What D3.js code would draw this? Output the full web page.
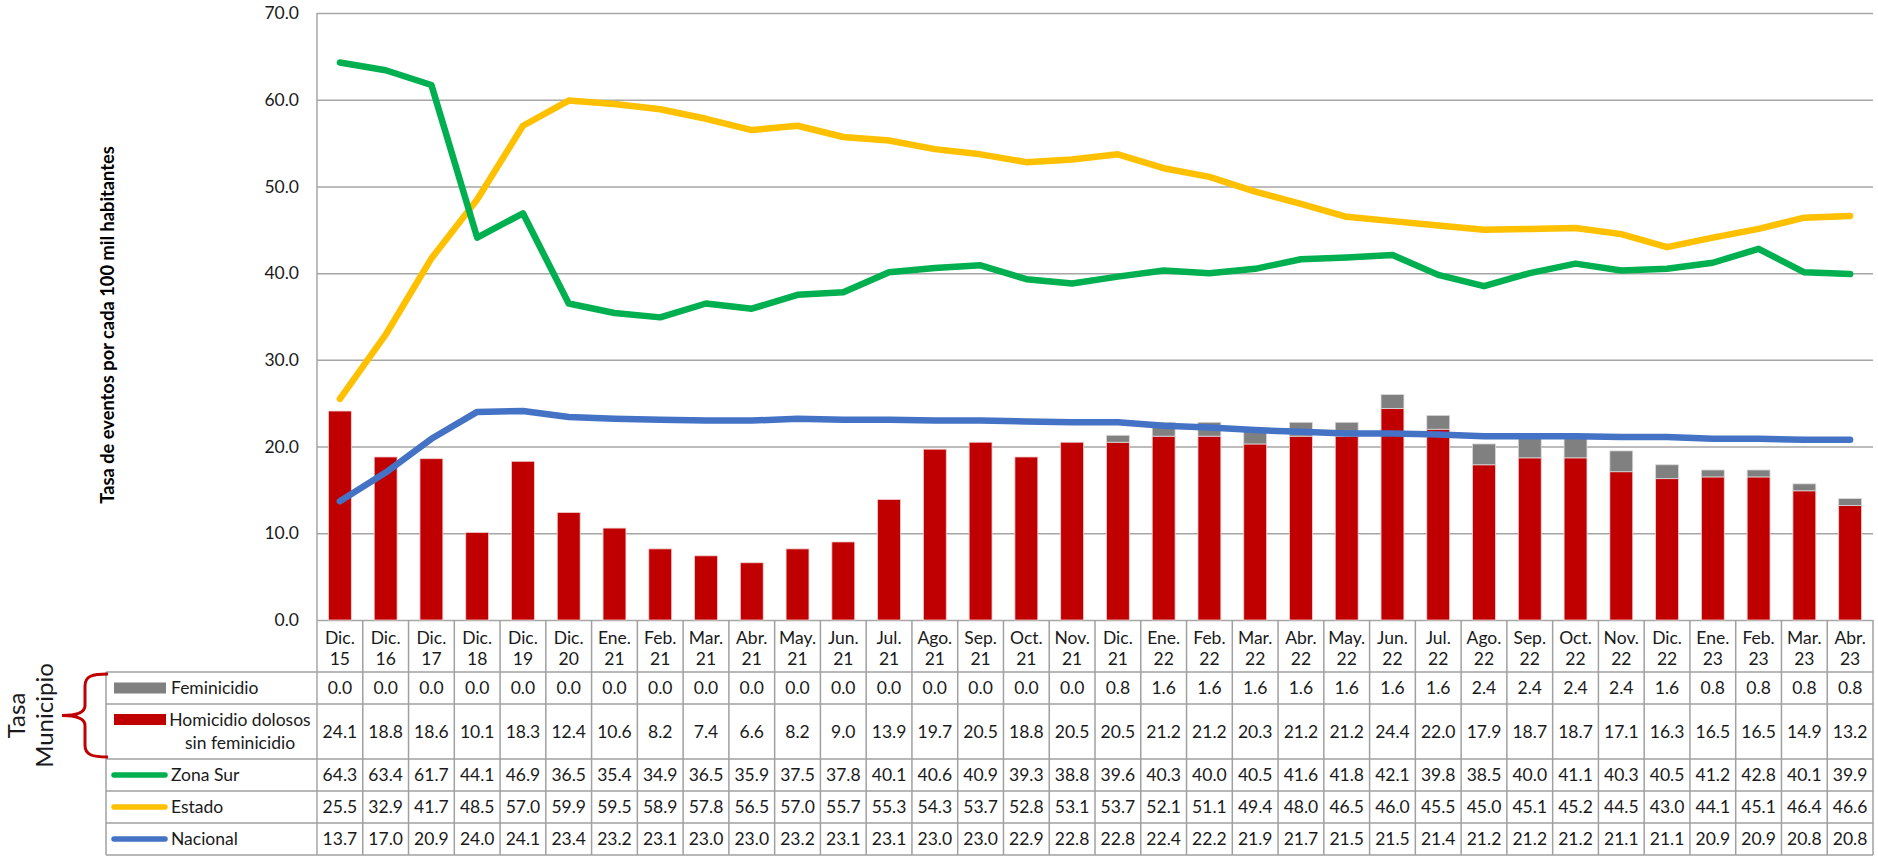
<!DOCTYPE html>
<html>
<head>
<meta charset="utf-8">
<script src="https://cdn.jsdelivr.net/npm/d3@7"></script>
<style>
  body { margin: 0; background: #fff; }
  svg { display: block; font-family: Lato, "Open Sans", sans-serif; }
</style>
</head>
<body>
<div id="chart"></div>
<script>
// categories (month + year, two lines in the table header)
const categories = ["Dic. 15", "Dic. 16", "Dic. 17", "Dic. 18", "Dic. 19", "Dic. 20", "Ene. 21", "Feb. 21",
  "Mar. 21", "Abr. 21", "May. 21", "Jun. 21", "Jul. 21", "Ago. 21", "Sep. 21", "Oct. 21", "Nov. 21",
  "Dic. 21", "Ene. 22", "Feb. 22", "Mar. 22", "Abr. 22", "May. 22", "Jun. 22", "Jul. 22", "Ago. 22",
  "Sep. 22", "Oct. 22", "Nov. 22", "Dic. 22", "Ene. 23", "Feb. 23", "Mar. 23", "Abr. 23"];

const feminicidio = [0.0, 0.0, 0.0, 0.0, 0.0, 0.0, 0.0, 0.0, 0.0, 0.0, 0.0, 0.0, 0.0, 0.0, 0.0, 0.0, 0.0,
  0.8, 1.6, 1.6, 1.6, 1.6, 1.6, 1.6, 1.6, 2.4, 2.4, 2.4, 2.4, 1.6, 0.8, 0.8, 0.8, 0.8];
const homicidio = [24.1, 18.8, 18.6, 10.1, 18.3, 12.4, 10.6, 8.2, 7.4, 6.6, 8.2, 9.0, 13.9, 19.7, 20.5, 18.8, 20.5,
  20.5, 21.2, 21.2, 20.3, 21.2, 21.2, 24.4, 22.0, 17.9, 18.7, 18.7, 17.1, 16.3, 16.5, 16.5, 14.9, 13.2];
const zonaSur = [64.3, 63.4, 61.7, 44.1, 46.9, 36.5, 35.4, 34.9, 36.5, 35.9, 37.5, 37.8, 40.1, 40.6, 40.9, 39.3, 38.8,
  39.6, 40.3, 40.0, 40.5, 41.6, 41.8, 42.1, 39.8, 38.5, 40.0, 41.1, 40.3, 40.5, 41.2, 42.8, 40.1, 39.9];
const estado = [25.5, 32.9, 41.7, 48.5, 57.0, 59.9, 59.5, 58.9, 57.8, 56.5, 57.0, 55.7, 55.3, 54.3, 53.7, 52.8, 53.1,
  53.7, 52.1, 51.1, 49.4, 48.0, 46.5, 46.0, 45.5, 45.0, 45.1, 45.2, 44.5, 43.0, 44.1, 45.1, 46.4, 46.6];
const nacional = [13.7, 17.0, 20.9, 24.0, 24.1, 23.4, 23.2, 23.1, 23.0, 23.0, 23.2, 23.1, 23.1, 23.0, 23.0, 22.9, 22.8,
  22.8, 22.4, 22.2, 21.9, 21.7, 21.5, 21.5, 21.4, 21.2, 21.2, 21.2, 21.1, 21.1, 20.9, 20.9, 20.8, 20.8];

const yTicks = [0, 10, 20, 30, 40, 50, 60, 70];
const yTitle = "Tasa de eventos por cada 100 mil habitantes";

// layout
const W = 1878, H = 856;
const plotLeft = 317, plotRight = 1873, plotTop = 13, plotBottom = 620;
const tableLeft = 106;
const rowEdges = [672, 704, 759, 791, 823, 855];
const gridColor = "#a6a6a6", tableColor = "#a0a0a0", textColor = "#1a1a1a";
const fs = 17.5;

const svg = d3.select("#chart").append("svg")
  .attr("width", W)
  .attr("height", H);

const x = d3.scaleBand().domain(categories).range([plotLeft, plotRight])
  .paddingInner(0.5).paddingOuter(0.25);
const y = d3.scaleLinear().domain([0, 70]).range([plotBottom, plotTop]);
const cx = c => x(c) + x.bandwidth() / 2;

// gridlines + y labels
svg.append("g")
  .attr("transform", `translate(${plotLeft},0)`)
  .call(d3.axisLeft(y).tickValues(yTicks).tickSize(-(plotRight - plotLeft))
    .tickPadding(18).tickFormat(d3.format(".1f")))
  .call(g => g.select(".domain").remove())
  .call(g => g.selectAll("line").attr("stroke", gridColor).attr("stroke-width", 1.5))
  .call(g => g.selectAll("text").attr("font-size", fs).attr("fill", textColor)
    .attr("font-family", "Lato, sans-serif"));

// y axis title
svg.append("text")
  .attr("transform", "translate(107,325) rotate(-90)")
  .attr("text-anchor", "middle")
  .attr("dominant-baseline", "central")
  .attr("font-size", 18.3)
  .attr("font-weight", "bold")
  .attr("fill", "#000")
  .text(yTitle);

// stacked bars
const bars = svg.append("g");
bars.selectAll("rect.hom")
  .data(categories)
  .join("rect")
  .attr("class", "hom")
  .attr("x", c => x(c))
  .attr("width", x.bandwidth())
  .attr("y", (c, i) => y(homicidio[i]))
  .attr("height", (c, i) => y(0) - y(homicidio[i]))
  .attr("fill", "#c00000")
  .attr("stroke", "#f0d0d0")
  .attr("stroke-width", 0.8);
bars.selectAll("rect.fem")
  .data(categories.filter((c, i) => feminicidio[i] > 0))
  .join("rect")
  .attr("class", "fem")
  .attr("x", c => x(c))
  .attr("width", x.bandwidth())
  .attr("y", c => { const i = categories.indexOf(c); return y(homicidio[i] + feminicidio[i]); })
  .attr("height", c => { const i = categories.indexOf(c); return y(homicidio[i]) - y(homicidio[i] + feminicidio[i]); })
  .attr("fill", "#808080")
  .attr("stroke", "#d9d9d9")
  .attr("stroke-width", 0.8);

// lines
const line = d3.line()
  .x((d, i) => cx(categories[i]))
  .y(d => y(d));

const series = [
  { name: "Zona Sur", values: zonaSur, color: "#00b050" },
  { name: "Estado", values: estado, color: "#ffc000" },
  { name: "Nacional", values: nacional, color: "#4472c4" }
];
const lineOrder = [series[2], series[1], series[0]];
lineOrder.forEach(s => {
  svg.append("path")
    .datum(s.values)
    .attr("fill", "none")
    .attr("stroke", s.color)
    .attr("stroke-width", 6.5)
    .attr("stroke-linecap", "round")
    .attr("stroke-linejoin", "round")
    .attr("d", line);
});

// ---------- data table ----------
const tbl = svg.append("g");
const step = x.step();
const colEdges = categories.map(c => cx(c) - step / 2).concat([plotRight]);

// vertical lines
colEdges.forEach((xx, i) => {
  tbl.append("line")
    .attr("x1", xx).attr("x2", xx)
    .attr("y1", i === 0 ? plotTop : plotBottom).attr("y2", rowEdges[rowEdges.length - 1])
    .attr("stroke", i === 0 ? gridColor : tableColor).attr("stroke-width", 1.5);
});
tbl.append("line")
  .attr("x1", tableLeft).attr("x2", tableLeft)
  .attr("y1", rowEdges[0]).attr("y2", rowEdges[rowEdges.length - 1])
  .attr("stroke", tableColor).attr("stroke-width", 1.5);
// horizontal lines
rowEdges.forEach(yy => {
  tbl.append("line")
    .attr("x1", tableLeft).attr("x2", plotRight)
    .attr("y1", yy).attr("y2", yy)
    .attr("stroke", tableColor).attr("stroke-width", 1.5);
});

// category header (two lines)
categories.forEach(c => {
  const parts = c.split(" ");
  const t = tbl.append("text")
    .attr("text-anchor", "middle")
    .attr("font-size", fs)
    .attr("fill", textColor);
  t.append("tspan").attr("x", cx(c)).attr("y", 644).text(parts[0]);
  t.append("tspan").attr("x", cx(c)).attr("y", 665).text(parts[1]);
});

// table rows
const rows = [
  { label: ["Feminicidio"], values: feminicidio, color: "#808080", kind: "bar" },
  { label: ["Homicidio dolosos", "sin feminicidio"], values: homicidio, color: "#c00000", kind: "bar" },
  { label: ["Zona Sur"], values: zonaSur, color: "#00b050", kind: "line" },
  { label: ["Estado"], values: estado, color: "#ffc000", kind: "line" },
  { label: ["Nacional"], values: nacional, color: "#4472c4", kind: "line" }
];

rows.forEach((r, ri) => {
  const top = rowEdges[ri], bottom = rowEdges[ri + 1];
  const mid = (top + bottom) / 2;
  r.values.forEach((v, i) => {
    tbl.append("text")
      .attr("x", cx(categories[i]))
      .attr("y", mid + 6)
      .attr("text-anchor", "middle")
      .attr("font-size", fs)
      .attr("fill", textColor)
      .text(d3.format(".1f")(v));
  });
  if (r.kind === "bar") {
    const sy = r.label.length > 1 ? top + 10 : mid - 5.5;
    tbl.append("rect")
      .attr("x", 114).attr("y", sy)
      .attr("width", 52).attr("height", 11)
      .attr("fill", r.color);
  } else {
    tbl.append("line")
      .attr("x1", 114).attr("x2", 165)
      .attr("y1", mid).attr("y2", mid)
      .attr("stroke", r.color).attr("stroke-width", 5.5)
      .attr("stroke-linecap", "round");
  }
  if (r.label.length === 1) {
    tbl.append("text")
      .attr("x", 171).attr("y", mid + 6)
      .attr("font-size", fs)
      .attr("fill", textColor)
      .text(r.label[0]);
  } else {
    r.label.forEach((l, k) => {
      tbl.append("text")
        .attr("x", 240).attr("y", top + 22 + k * 23)
        .attr("text-anchor", "middle")
        .attr("font-size", fs)
        .attr("fill", textColor)
        .text(l);
    });
  }
});

// brace and group label
const bTop = 674, bBot = 757, bMid = (bTop + bBot) / 2;
svg.append("path")
  .attr("d", `M108,${bTop} C92,${bTop} 85,${bTop + 2} 85,${bTop + 12}
    L85,${bMid - 10} C85,${bMid - 3} 78,${bMid} 62,${bMid}
    C78,${bMid} 85,${bMid + 3} 85,${bMid + 10}
    L85,${bBot - 12} C85,${bBot - 2} 92,${bBot} 108,${bBot}`)
  .attr("fill", "none")
  .attr("stroke", "#c00000")
  .attr("stroke-width", 3);

const grp = svg.append("text")
  .attr("transform", `translate(17,${bMid}) rotate(-90)`)
  .attr("text-anchor", "middle")
  .attr("font-size", 24)
  .attr("fill", textColor);
grp.append("tspan").attr("x", 0).attr("y", 8).text("Tasa");
grp.append("tspan").attr("x", 0).attr("y", 36).text("Municipio");
</script>
</body>
</html>
